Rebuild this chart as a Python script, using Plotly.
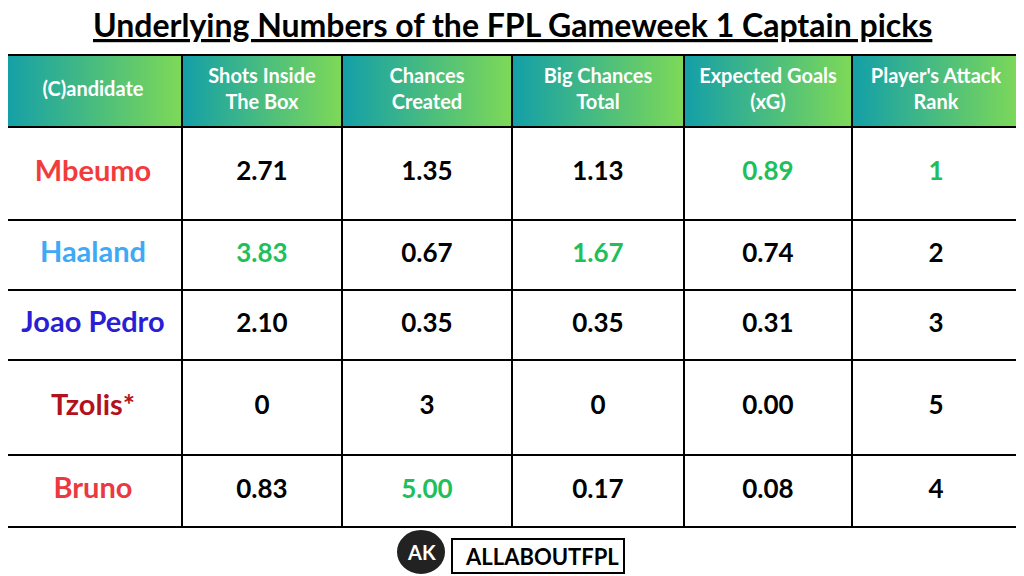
import plotly.graph_objects as go

# table data
headers = ["(C)andidate", "Shots Inside<br>The Box", "Chances<br>Created",
           "Big Chances<br>Total", "Expected Goals<br>(xG)", "Player's Attack<br>Rank"]
players = ["Mbeumo", "Haaland", "Joao Pedro", "Tzolis*", "Bruno"]
player_colors = ["#f23b3b", "#3fa9f5", "#2b1fd6", "#b3121c", "#ea3a3f"]
shots_box = ["2.71", "3.83", "2.10", "0", "0.83"]
chances_created = ["1.35", "0.67", "0.35", "3", "5.00"]
big_chances = ["1.13", "1.67", "0.35", "0", "0.17"]
xg = ["0.89", "0.74", "0.31", "0.00", "0.08"]
attack_rank = ["1", "2", "3", "5", "4"]
# which cells are highlighted green (best in column)
best = {1: "3.83", 2: "5.00", 3: "1.67", 4: "0.89", 5: "1"}

# geometry
col_edges = [4, 182, 342, 512, 684, 852, 1020]
row_edges = [55, 127, 220, 290, 360, 455, 527]
GREEN = "#1fbf5b"

fig = go.Figure()

# gradient header cells
for i in range(6):
    x0, x1 = col_edges[i], col_edges[i + 1]
    y0, y1 = row_edges[0], row_edges[1]
    fig.add_trace(go.Scatter(
        x=[x0, x1, x1, x0, x0], y=[y0, y0, y1, y1, y0], mode="lines",
        fill="toself", line=dict(width=0),
        fillgradient=dict(type="horizontal",
                          colorscale=[[0, "#139fa8"], [1, "#7ed957"]]),
        hoverinfo="skip", showlegend=False))

xc = [(col_edges[i] + col_edges[i + 1]) / 2 for i in range(6)]
yc = [(row_edges[i] + row_edges[i + 1]) / 2 for i in range(1, 6)]

fig.add_trace(go.Scatter(
    x=xc, y=[row_edges[0] + 36] * 6, mode="text", text=[f"<b>{h}</b>" for h in headers],
    textfont=dict(family="Lato", size=20, color="white"),
    hoverinfo="skip", showlegend=False))

fig.add_trace(go.Scatter(
    x=[xc[0]] * 5, y=yc, mode="text", text=[f"<b>{p}</b>" for p in players],
    textfont=dict(family="Lato", size=29, color=player_colors),
    hoverinfo="skip", showlegend=False))

columns = [shots_box, chances_created, big_chances, xg, attack_rank]
for j, vals in enumerate(columns, start=1):
    cols = [GREEN if v == best[j] else "black" for v in vals]
    fig.add_trace(go.Scatter(
        x=[xc[j]] * 5, y=yc, mode="text", text=[f"<b>{v}</b>" for v in vals],
        textfont=dict(family="Lato", size=26, color=cols),
        hoverinfo="skip", showlegend=False))

# grid lines
shapes = []
for x in col_edges:
    shapes.append(dict(type="line", x0=x, x1=x, y0=row_edges[0], y1=row_edges[-1],
                       line=dict(color="black", width=2)))
for y in row_edges:
    shapes.append(dict(type="line", x0=col_edges[0], x1=col_edges[-1], y0=y, y1=y,
                       line=dict(color="black", width=2)))
# logo bits
shapes.append(dict(type="circle", x0=398, x1=444, y0=531, y1=573,
                   fillcolor="#222", line=dict(color="#222")))
shapes.append(dict(type="rect", x0=452, x1=624, y0=539, y1=573,
                   fillcolor="white", line=dict(color="black", width=2)))

annotations = [
    dict(x=512, y=24, text="<b>Underlying Numbers of the FPL Gameweek 1 Captain picks</b>",
         showarrow=False, font=dict(family="Lato", size=32, color="black", lineposition="under")),
    dict(x=6, y=550, xanchor="left", text="<b>Last six games</b>", showarrow=False,
         font=dict(family="Lato", size=22, color="#b3121c", lineposition="under")),
    dict(x=421, y=552, text="<b>AK</b>", showarrow=False,
         font=dict(family="Lato", size=20, color="white")),
    dict(x=542, y=556, text="<b>ALLABOUTFPL</b>", showarrow=False,
         font=dict(family="Lato", size=22, color="black")),
]

# the page body has an 8px margin, so shift the ranges to line pixels up
fig.update_layout(
    width=1024, height=576, margin=dict(l=0, r=0, t=0, b=0),
    paper_bgcolor="white", plot_bgcolor="white",
    xaxis=dict(range=[8, 1032], visible=False, fixedrange=True),
    yaxis=dict(range=[584, 8], visible=False, fixedrange=True),
    shapes=shapes, annotations=annotations)

fig.write_html("out.html")
